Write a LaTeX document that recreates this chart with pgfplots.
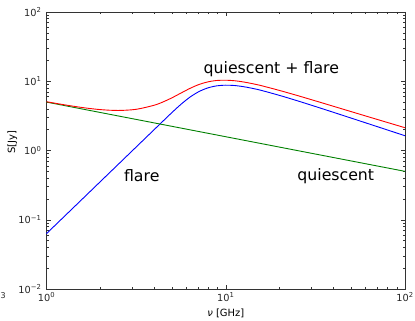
\documentclass[border=0pt]{standalone}
\usepackage{fontspec}
\setmainfont{DejaVu Sans}
\usepackage{pgfplots}
\pgfplotsset{compat=1.18}
\definecolor{mplgreen}{RGB}{0,128,0}
\begin{document}
\begin{tikzpicture}
\useasboundingbox (-46.5bp,-32bp) rectangle (368.5bp,289bp);
\begin{axis}[
  scale only axis, width=358.5bp, height=277bp,
  xmode=log, ymode=log,
  xmin=1, xmax=100, ymin=0.01, ymax=100,
  axis line style={black!80, line width=0.7bp},
  tick align=inside,
  major tick length=4.5bp, minor tick length=2.5bp,
  every tick/.style={black!80, line width=0.5bp},
  xtick={1,10,100},
  xticklabels={10\textsuperscript{0},10\textsuperscript{1},10\textsuperscript{2}},
  minor xtick={2,3,4,5,6,7,8,9,20,30,40,50,60,70,80,90},
  ytick={0.01,0.1,1,10,100},
  yticklabels={10\textsuperscript{−2},10\textsuperscript{−1},10\textsuperscript{0},10\textsuperscript{1},10\textsuperscript{2}},
  minor ytick={0.02,0.03,0.04,0.05,0.06,0.07,0.08,0.09,0.2,0.3,0.4,0.5,0.6,0.7,0.8,0.9,2,3,4,5,6,7,8,9,20,30,40,50,60,70,80,90},
  ticklabel style={font=\fontsize{9.8}{11}\selectfont, text=black!85},
  yticklabel style={xshift=-1.5bp},
  xlabel={\textit{ν} [GHz]}, ylabel={S[Jy]},
  label style={font=\fontsize{9}{11}\selectfont},
  every axis x label/.style={at={(axis description cs:0.5,-0.087)}, anchor=center},
  every axis y label/.style={at={(axis description cs:-0.095,0.53)}, rotate=90, anchor=center},
  clip=false,
]
\addplot[blue, line width=0.9bp, smooth] coordinates {
(1,0.0631) (1.2589,0.1121) (1.5849,0.1993) (1.9953,0.3545) (2.5119,0.6305)
(3.1623,1.121) (3.9811,1.993) (4.4668,2.658) (5.0119,3.536) (5.6234,4.640)
(6.3096,5.887) (7.0795,7.081) (7.9433,8.012) (8.9125,8.585) (10,8.769)
(11.220,8.672) (12.589,8.342) (14.125,7.886) (15.849,7.362) (19.953,6.247)
(25.119,5.219) (31.623,4.321) (39.811,3.565) (50.119,2.935) (63.096,2.415)
(79.433,1.987) (100,1.633)
};
\addplot[mplgreen, line width=0.9bp] coordinates {
(1,5) (10,1.581) (100,0.5)
};
\addplot[red, line width=0.9bp, smooth] coordinates {
(1,5.063) (1.2589,4.568) (1.5849,4.171) (1.9953,3.895) (2.5119,3.786)
(3.1623,3.933) (3.9811,4.499) (4.4668,5.024) (5.0119,5.770) (5.6234,6.749)
(6.3096,7.878) (7.0795,8.961) (7.9433,9.786) (8.9125,10.260) (10,10.350)
(11.220,10.165) (12.589,9.751) (14.125,9.216) (15.849,8.618) (19.953,7.366)
(25.119,6.217) (31.623,5.210) (39.811,4.357) (50.119,3.641) (63.096,3.044)
(79.433,2.548) (100,2.133)
};
\node[anchor=base, font=\fontsize{15.8}{18}\selectfont] at (axis cs:3.40,0.351) {flare};
\node[anchor=base, font=\fontsize{15.8}{18}\selectfont] at (axis cs:41.1,0.363) {quiescent};
\node[anchor=base, font=\fontsize{15.8}{18}\selectfont] at (axis cs:17.96,13.0) {quiescent + flare};
\node[font=\fontsize{8}{9}\selectfont, text=black!85] at (axis description cs:-0.121,-0.025) {3};
\end{axis}
\end{tikzpicture}
\end{document}
